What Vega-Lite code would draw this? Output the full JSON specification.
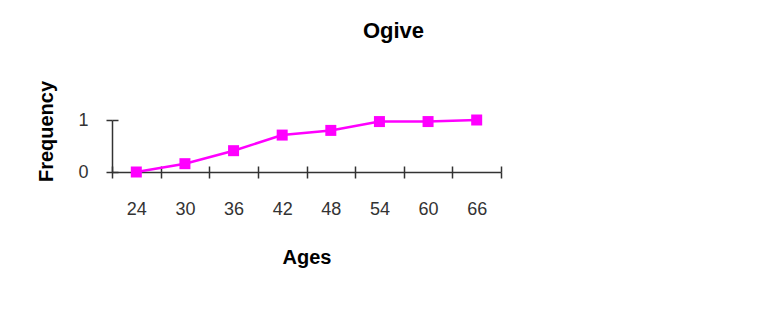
{
  "$schema": "https://vega.github.io/schema/vega-lite/v6.json",
  "width": 389,
  "height": 52,
  "autosize": "none",
  "padding": {"left": 112, "top": 120, "right": 266, "bottom": 146},
  "background": "white",
  "config": {
    "font": "Liberation Sans",
    "view": {"stroke": null}
  },
  "title": {
    "text": "Ogive",
    "fontSize": 22,
    "fontWeight": "bold",
    "color": "#000000",
    "anchor": "middle",
    "dx": 87,
    "offset": 37
  },
  "data": {
    "values": [
      {"age": "24", "freq": 0.0},
      {"age": "30", "freq": 0.16},
      {"age": "36", "freq": 0.41},
      {"age": "42", "freq": 0.71},
      {"age": "48", "freq": 0.8},
      {"age": "54", "freq": 0.97},
      {"age": "60", "freq": 0.97},
      {"age": "66", "freq": 1.0}
    ]
  },
  "layer": [
    {
      "mark": {"type": "line", "color": "#FF00FF", "strokeWidth": 2.5, "clip": false},
      "encoding": {
        "x": {
          "field": "age", "type": "ordinal", "sort": null,
          "scale": {"type": "band", "paddingInner": 0, "paddingOuter": 0},
          "axis": {
            "title": "Ages", "titleFontSize": 20, "titleFontWeight": "bold", "titleColor": "#000000", "titlePadding": 29,
            "labelAngle": 0, "labelFontSize": 18, "labelColor": "#333333", "labelPadding": 22,
            "tickBand": "extent", "tickSize": 6, "tickColor": "#333333", "tickWidth": 1.5,
            "domainColor": "#333333", "domainWidth": 1.5, "grid": false
          }
        },
        "y": {
          "field": "freq", "type": "quantitative",
          "scale": {"domain": [0, 1], "nice": false, "zero": true},
          "axis": {
            "title": "Frequency", "titleFontSize": 20, "titleFontWeight": "bold", "titleColor": "#000000", "titlePadding": 21, "titleY": 11,
            "values": [0, 1], "format": "d", "labelFontSize": 18, "labelColor": "#333333", "labelPadding": 18,
            "tickSize": 6, "tickColor": "#333333", "tickWidth": 1.5,
            "domainColor": "#333333", "domainWidth": 1.5, "grid": false
          }
        }
      }
    },
    {
      "mark": {"type": "square", "size": 121, "color": "#FF00FF", "opacity": 1, "filled": true, "clip": false},
      "encoding": {
        "x": {
          "field": "age", "type": "ordinal", "sort": null,
          "axis": {
            "orient": "bottom", "title": null, "labels": false, "domain": false,
            "tickBand": "extent", "tickSize": -6, "tickColor": "#333333", "tickWidth": 1.5, "grid": false
          }
        },
        "y": {
          "field": "freq", "type": "quantitative",
          "axis": {
            "orient": "left", "title": null, "labels": false, "domain": false,
            "values": [0, 1], "tickSize": -6, "tickColor": "#333333", "tickWidth": 1.5, "grid": false
          }
        }
      }
    }
  ],
  "resolve": {"axis": {"x": "independent", "y": "independent"}}
}
